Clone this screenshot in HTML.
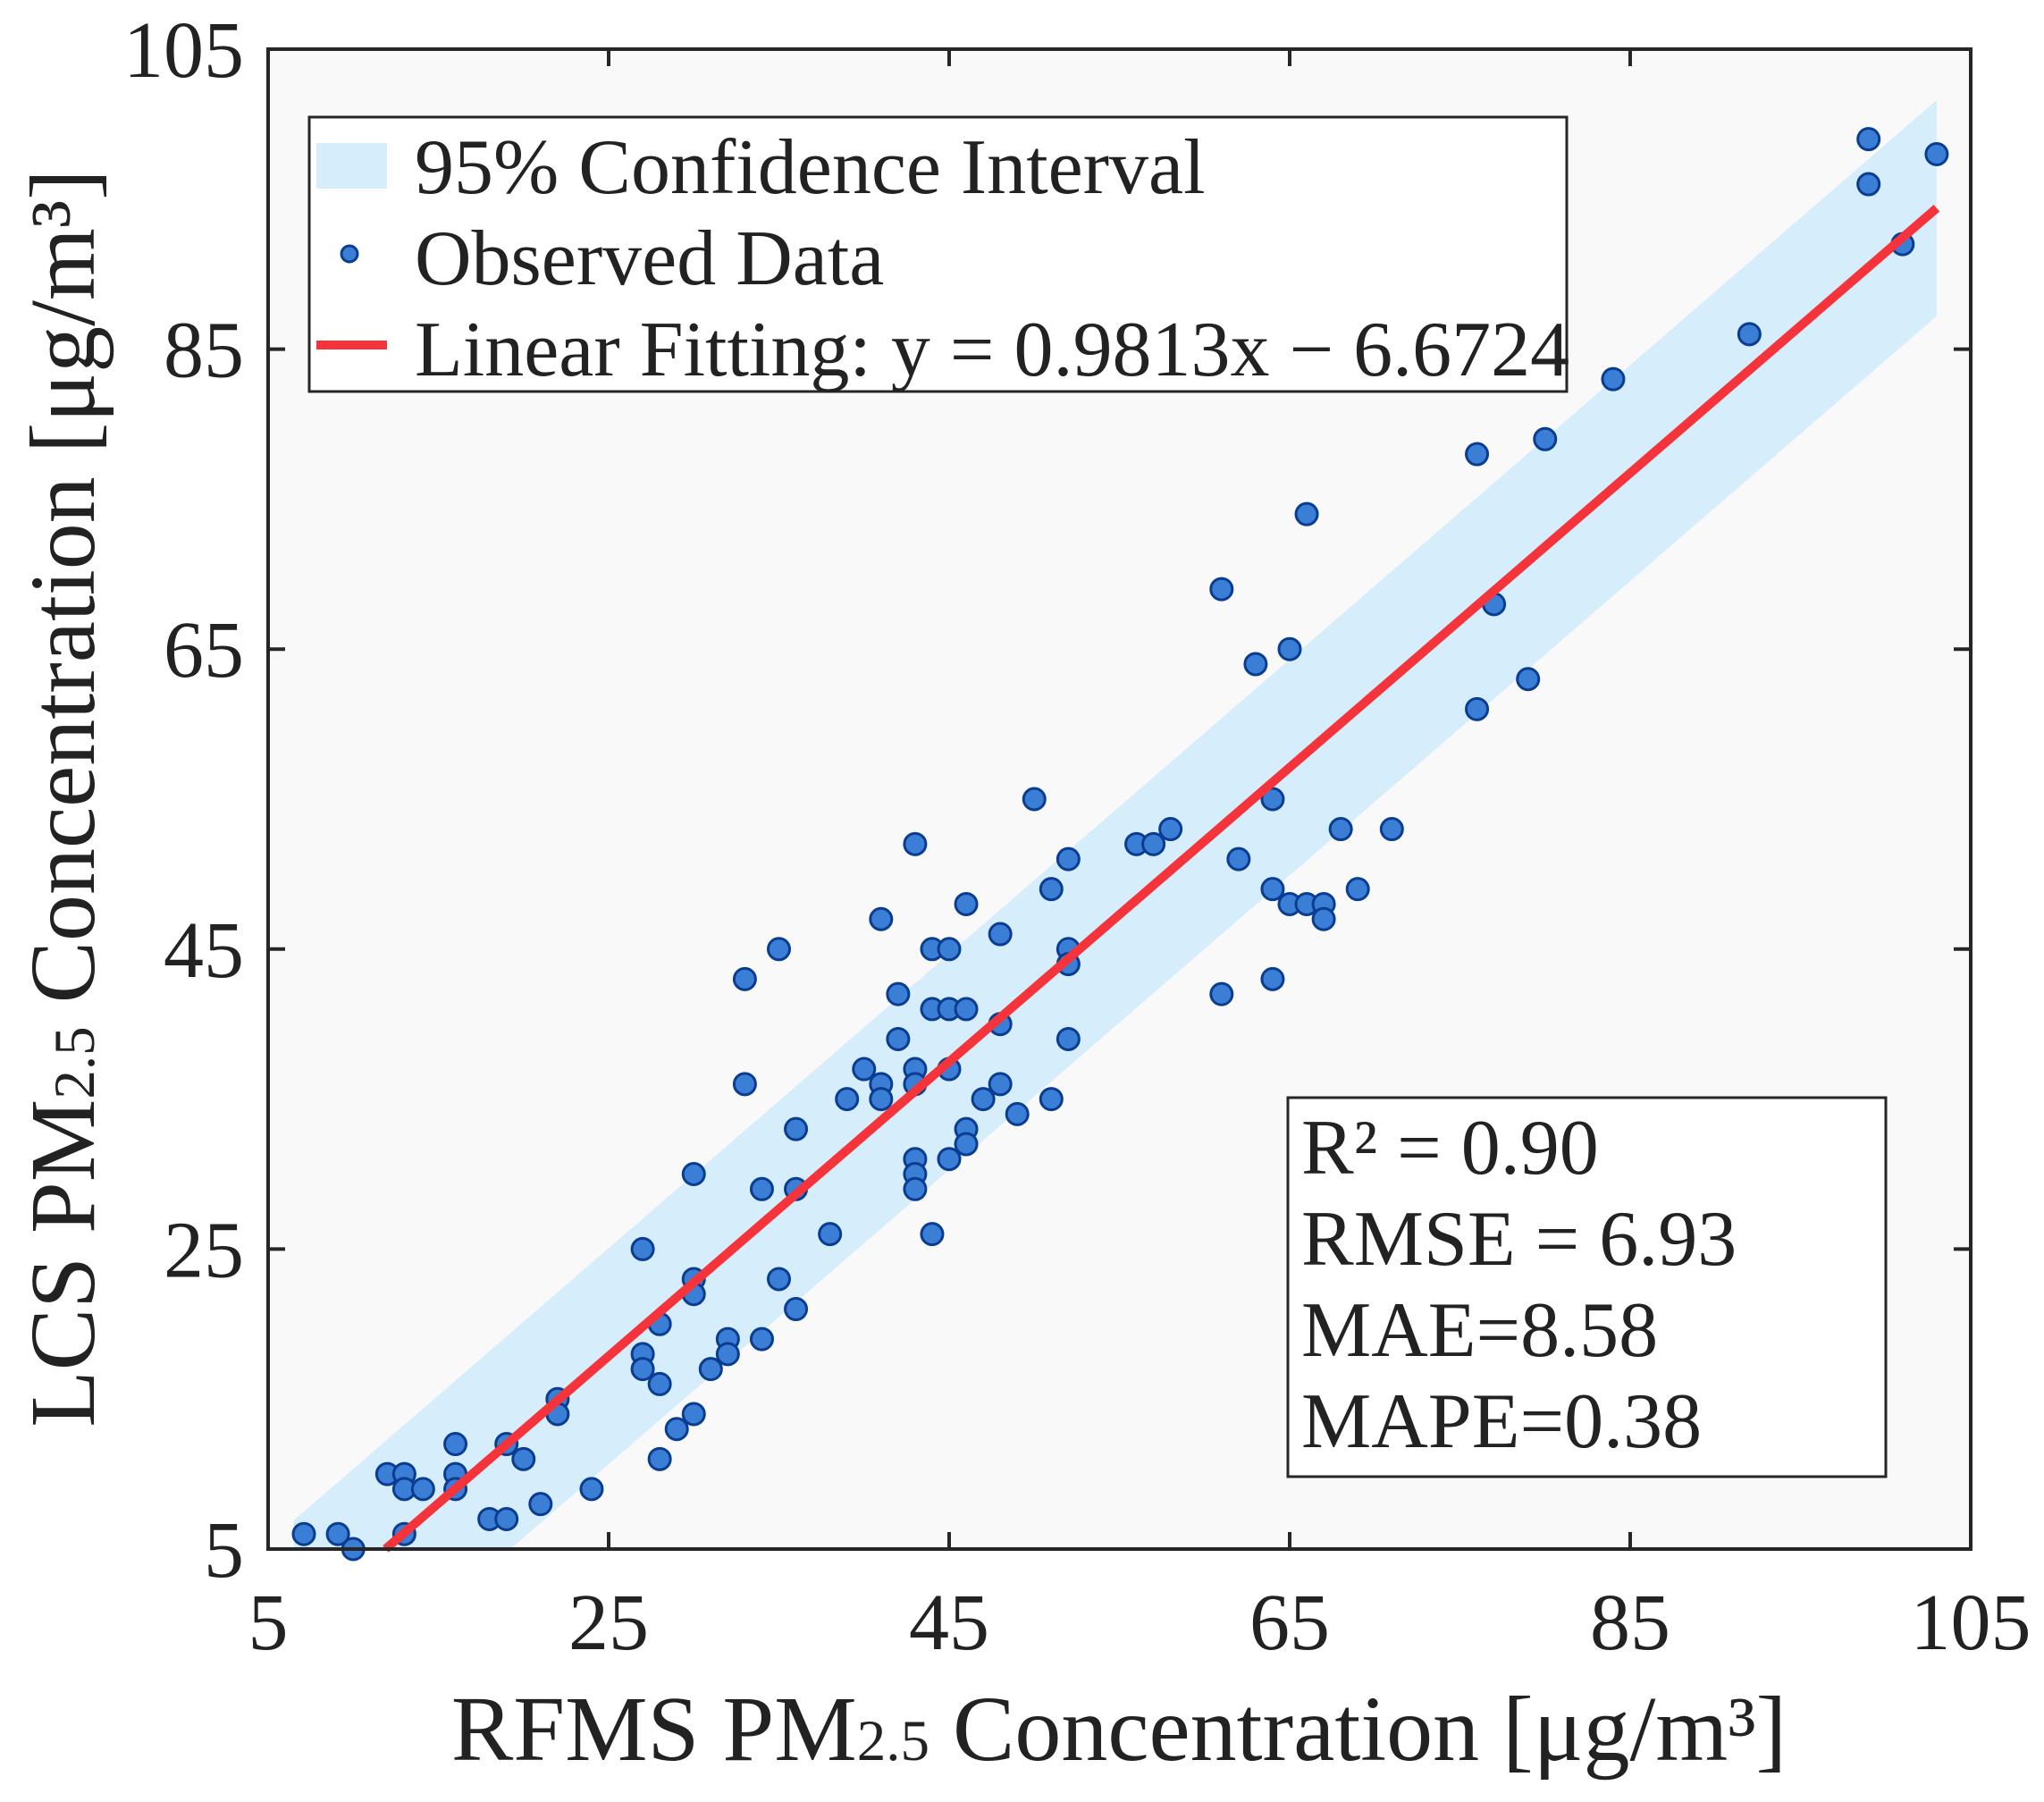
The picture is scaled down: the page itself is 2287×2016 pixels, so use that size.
<!DOCTYPE html>
<html><head><meta charset="utf-8"><style>
html,body{margin:0;padding:0;background:#fff;}
svg text{font-family:"Liberation Serif",serif;fill:#222;}
</style></head><body>
<svg id="chart" width="2287" height="2011" viewBox="0 0 2287 2011" xmlns="http://www.w3.org/2000/svg">
<rect x="300" y="55" width="1905" height="1678" fill="#f9f9f9"/>
<g id="band"></g>
<g id="points"></g>
<g id="fit"></g>
<rect x="300" y="55" width="1905" height="1678" fill="none" stroke="#262626" stroke-width="4"/>
<g id="ticks"></g>
<text x="1252" y="1969" font-size="104" text-anchor="middle">RFMS PM<tspan font-size="65">2.5</tspan> Concentration [μg/m³]</text>
<text transform="translate(105,893) rotate(-90)" font-size="104" text-anchor="middle">LCS PM<tspan font-size="65">2.5</tspan> Concentration [μg/m³]</text>
<g>
<rect x="346" y="131" width="1407" height="307" fill="#fff" stroke="#262626" stroke-width="3"/>
<rect x="354" y="160" width="79" height="51" fill="#d6edfb"/>
<text x="464" y="216" font-size="88">95% Confidence Interval</text>
<circle cx="391" cy="284" r="9" fill="#3a7fd5" stroke="#0a3d91" stroke-width="3"/>
<text x="464" y="318" font-size="88">Observed Data</text>
<line x1="354" y1="386" x2="433" y2="386" stroke="#f5333a" stroke-width="10"/>
<text x="464" y="420" font-size="88">Linear Fitting: y = 0.9813x − 6.6724</text>
</g>
<g>
<rect x="1441" y="1228" width="669" height="424" fill="#fff" stroke="#262626" stroke-width="3"/>
<text x="1456" y="1313" font-size="88">R² = 0.90</text>
<text x="1456" y="1415" font-size="88">RMSE = 6.93</text>
<text x="1456" y="1517" font-size="88">MAE=8.58</text>
<text x="1456" y="1619" font-size="88">MAPE=0.38</text>
</g>
</svg>
<script>
const xTicks=[5,25,45,65,85,105];
const yTicks=[5,25,45,65,85,105];
const obsX=[7.1,9.1,10,12,13,13,14.1,13,16,16,16,18,19,19,20,21,22,22,24,27,27,27,28,28,28,29,30,30,30,30,31,32,32,33,33,34,34,35,35,36,36,36,38,39,40,41,41,41,42,42,43,43,43,43,43,43,44,44,44,45,45,45,45,46,46,46,46,47,48,48,48,49,50,51,51,52,52,52,52,56,57,58,61,61,62,63,64,64,64,65,65,66,66,67,67,68,69,71,76,76,77,79,80,84,92,99,99,101,103];
const obsY=[6,6,5,10,10,9,9,6,12,10,9,7,7,12,11,8,15,14,9,25,18,17,20,16,11,13,30,23,22,14,17,19,18,43,36,29,19,45,23,33,29,21,26,35,37,47,36,35,42,39,52,37,36,31,30,29,45,41,26,45,41,37,31,48,41,33,32,35,46,40,36,34,55,49,35,51,45,44,39,52,52,53,69,42,51,64,55,49,43,65,48,74,48,48,47,53,49,53,78,61,68,63,79,83,86,99,96,92,98];
const fitSlope=0.9813, fitIntercept=-6.6724, ciHalf=7.2;
const fitRange=[11.9,103], bandRange=[6.5,103];
const NS='http://www.w3.org/2000/svg';
const X=v=>300+(v-5)*(1905/100);
const Y=v=>1733-(v-5)*(1678/100);
function mk(t,a,p){const e=document.createElementNS(NS,t);for(const k in a)e.setAttribute(k,a[k]);p.appendChild(e);return e;}
const f=x=>fitSlope*x+fitIntercept;
const b0=bandRange[0],b1=bandRange[1];
const xc=(5+ciHalf-fitIntercept)/fitSlope;
const bp=[[b0,Math.max(5,f(b0)+ciHalf)],[b1,f(b1)+ciHalf],[b1,f(b1)-ciHalf],[xc,5],[b0,5]];
const band=mk('polygon',{points:bp.map(p=>X(p[0])+','+Y(p[1])).join(' '),fill:'#d6edfb'},document.getElementById('band'));


const pg=document.getElementById('points');
obsX.forEach((x,i)=>{const c=mk('circle',{cx:X(x),cy:Y(obsY[i]),r:12,fill:'#3a7fd5',stroke:'#0a3d91','stroke-width':3},pg);

});
const ln=mk('line',{x1:X(fitRange[0]),y1:Y(f(fitRange[0])),x2:X(fitRange[1]),y2:Y(f(fitRange[1])),stroke:'#f5333a','stroke-width':10},document.getElementById('fit'));


const tg=document.getElementById('ticks');
xTicks.forEach(v=>{const x=X(v);
mk('line',{x1:x,y1:1733,x2:x,y2:1714,stroke:'#262626','stroke-width':4},tg);
mk('line',{x1:x,y1:55,x2:x,y2:74,stroke:'#262626','stroke-width':4},tg);
const t=mk('text',{x:x,y:1845,'font-size':90,'text-anchor':'middle'},tg);t.textContent=v;

});
yTicks.forEach(v=>{const y=Y(v);
mk('line',{x1:300,y1:y,x2:319,y2:y,stroke:'#262626','stroke-width':4},tg);
mk('line',{x1:2205,y1:y,x2:2186,y2:y,stroke:'#262626','stroke-width':4},tg);
const t=mk('text',{x:273,y:y+31,'font-size':90,'text-anchor':'end'},tg);t.textContent=v;

});
</script>
</body></html>
